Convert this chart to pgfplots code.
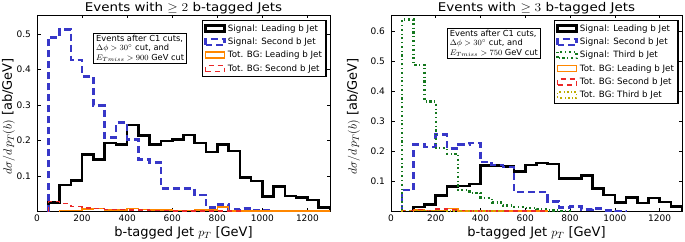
\documentclass[border=0pt]{standalone}
\usepackage{fontspec}
\setmainfont{DejaVu Sans}
\usepackage{graphicx}
\usepackage{pgfplots}
\usepackage{pgfplotstable}
\pgfplotsset{compat=1.18}

\definecolor{sigblue}{RGB}{55,55,200}
\definecolor{siggreen}{RGB}{20,120,30}
\definecolor{bgorange}{RGB}{255,135,0}
\definecolor{bgred}{RGB}{235,40,40}
\definecolor{bgolive}{RGB}{190,170,0}

% ---------- left panel (>=2 b-tags) ----------
\pgfplotstableread{
x y
50 0
50 0.026
100 0.075
150 0.087
200 0.161
250 0.147
300 0.193
350 0.188
400 0.244
450 0.214
500 0.189
550 0.199
600 0.203
650 0.216
700 0.193
750 0.168
800 0.188
850 0.170
900 0.096
950 0.086
1000 0.042
1050 0.070
1100 0.044
1150 0.040
1200 0.032
1250 0.012
1300 0.012
1300 0
}\LsigA
\pgfplotstableread{
x y
50 0
50 0.490
100 0.513
150 0.427
200 0.381
250 0.298
300 0.209
350 0.250
400 0.203
450 0.146
500 0.138
550 0.065
600 0.065
650 0.065
700 0.046
750 0.012
800 0.020
850 0.005
900 0.009
950 0.004
1000 0.002
1050 0.001
1100 0.001
1150 0
1150 0
}\LsigB
\pgfplotstableread{
x y
100 0
100 0.003
150 0.003
200 0.007
250 0.008
300 0.004
350 0.004
400 0.008
450 0.005
500 0.004
550 0.004
600 0.003
650 0.003
700 0.004
750 0.004
800 0.012
850 0.002
900 0.001
1300 0.001
1300 0
}\LbgA
\pgfplotstableread{
x y
50 0
50 0.028
100 0.022
150 0.014
200 0.010
250 0.008
300 0.006
350 0.005
400 0.004
450 0.004
500 0.003
550 0.003
600 0.002
650 0.002
700 0.002
750 0.001
900 0.001
900 0
}\LbgB

% ---------- right panel (>=3 b-tags) ----------
\pgfplotstableread{
x y
100 0
100 0.015
150 0.023
200 0.054
250 0.083
300 0.085
350 0.092
400 0.153
450 0.152
500 0.149
550 0.133
600 0.154
650 0.161
700 0.158
750 0.110
800 0.110
850 0.120
900 0.077
950 0.055
1000 0.030
1050 0.047
1100 0.028
1150 0.045
1200 0.032
1250 0.017
1300 0.017
1300 0
}\RsigA
\pgfplotstableread{
x y
50 0
50 0.072
100 0.222
150 0.215
200 0.255
250 0.210
300 0.222
350 0.228
400 0.165
450 0.155
500 0.148
550 0.065
600 0.065
650 0.065
700 0.034
750 0.013
800 0.016
850 0.006
900 0.010
950 0.004
1000 0.001
1050 0
}\RsigB
\pgfplotstableread{
x y
50 0
50 0.638
100 0.488
150 0.366
200 0.211
250 0.192
300 0.072
350 0.062
400 0.045
450 0.030
500 0.020
550 0.015
600 0.012
650 0.007
700 0.003
750 0.001
800 0
}\RsigC
\pgfplotstableread{
x y
100 0
100 0.005
150 0.004
200 0.004
250 0.010
300 0.002
350 0.002
400 0.001
700 0.001
700 0
}\RbgA
\pgfplotstableread{
x y
50 0
50 0.003
100 0.006
150 0.004
200 0.008
250 0.005
300 0.003
350 0.002
400 0.001
700 0.001
700 0
}\RbgB
\pgfplotstableread{
x y
50 0
50 0.004
100 0.003
150 0.004
200 0.003
250 0.002
300 0.001
500 0.001
500 0
}\RbgC

\tikzset{
  boxnode/.style={draw=black, line width=0.8pt, fill=white, anchor=north west, align=left,
    font=\fontsize{8.3}{9.6}\selectfont, inner xsep=2.5pt, inner ysep=1.5pt},
}
\pgfplotsset{
  every axis title shift=0pt,
  base/.style={
    scale only axis, height=196.5pt,
    xmin=0, xmax=1300, ymin=0,
    xtick={0,200,400,600,800,1000,1200},
    tick align=inside, xtick pos=both, ytick pos=both,
    major tick length=3.5pt,
    tick style={black, line width=0.6pt},
    axis line style={line width=0.9pt},
    tick label style={font=\fontsize{9}{10}\selectfont},
    /pgf/number format/assume math mode=true,
    /pgf/number format/1000 sep={},
    yticklabel style={/pgf/number format/fixed, /pgf/number format/precision=1, xshift=-2.5pt},
    scaled y ticks=false,
    xlabel={b-tagged Jet $p_T$ [GeV]},
    ylabel={$d\sigma/d\,p_T(b)$ [ab/GeV]},
    label style={font=\fontsize{13}{14}\selectfont},
    xlabel style={at={(axis description cs:0.5,0)}, anchor=north, yshift=-14.5pt, inner sep=0pt},
    title style={font=\fontsize{12}{13}\selectfont, at={(axis description cs:0.5,1)}, anchor=south, inner sep=0pt, yshift=0.8pt},
    legend cell align=left,
    legend image code/.code={\draw[#1] (0pt,-3pt) rectangle (19pt,3pt);},
    legend style={at={(1,1)}, anchor=north east, xshift=-3.5pt, yshift=-5pt,
      draw=black, line width=1.1pt, fill=white,
      font=\fontsize{8.7}{10}\selectfont, inner xsep=2pt, inner ysep=2pt,
      row sep=1.2pt},
    every axis plot/.append style={const plot, no markers, line join=miter},
  },
  sA/.style={draw=black, color=black, line width=2.6pt},
  sB/.style={draw=sigblue, color=sigblue, line width=2.6pt, dash pattern=on 7pt off 4pt},
  sC/.style={draw=siggreen, color=siggreen, line width=2.3pt, dash pattern=on 2.2pt off 2.8pt on 0.8pt off 2.8pt},
  bA/.style={draw=bgorange, color=bgorange, line width=1.5pt},
  bB/.style={draw=bgred, color=bgred, line width=1.5pt, dash pattern=on 5pt off 4pt},
  bC/.style={draw=bgolive, color=bgolive, line width=1.5pt, dash pattern=on 2pt off 2.5pt on 0.6pt off 2.5pt},
}

\begin{document}
\begin{tikzpicture}
\begin{axis}[base, at={(37pt,29.5pt)}, anchor=south west, width=293pt,
  ymax=0.5535, ytick={0.1,0.2,0.3,0.4,0.5},
  title={\scalebox{1.12}[1]{Events with $\geq 2$ b-tagged Jets}},
  ylabel style={at={(axis description cs:-0.0973,0.485)}, anchor=center}]
\addplot[sA] table {\LsigA};
\addlegendentry{Signal: Leading b Jet}
\addplot[sB] table {\LsigB};
\addlegendentry{Signal: Second b Jet}
\addplot[bA] table {\LbgA};
\addlegendentry{Tot. BG: Leading b Jet}
\addplot[bB] table {\LbgB};
\addlegendentry{Tot. BG: Second b Jet}
\node[boxnode] at (axis cs:250,0.503)
  {Events after C1 cuts,\\ $\Delta\phi>30^{\circ}$ cut, and\\ $E_{Tmiss}>900$ GeV cut};
\end{axis}

\begin{axis}[base, at={(391pt,29.5pt)}, anchor=south west, width=291pt,
  ymax=0.653, ytick={0.1,0.2,0.3,0.4,0.5,0.6},
  title={\scalebox{1.12}[1]{Events with $\geq 3$ b-tagged Jets}},
  ylabel style={at={(axis description cs:-0.1289,0.485)}, anchor=center}]
\addplot[sA] table {\RsigA};
\addlegendentry{Signal: Leading b Jet}
\addplot[sB] table {\RsigB};
\addlegendentry{Signal: Second b Jet}
\addplot[sC] table {\RsigC};
\addlegendentry{Signal: Third b Jet}
\addplot[bA] table {\RbgA};
\addlegendentry{Tot. BG: Leading b Jet}
\addplot[bB] table {\RbgB};
\addlegendentry{Tot. BG: Second b Jet}
\addplot[bC] table {\RbgC};
\addlegendentry{Tot. BG: Third b Jet}
\node[boxnode] at (axis cs:250,0.61)
  {Events after C1 cuts,\\ $\Delta\phi>30^{\circ}$ cut, and\\ $E_{Tmiss}>750$ GeV cut};
\end{axis}
\pgfresetboundingbox
\path[use as bounding box] (0,0) rectangle (685pt,241pt);
\end{tikzpicture}
\end{document}
